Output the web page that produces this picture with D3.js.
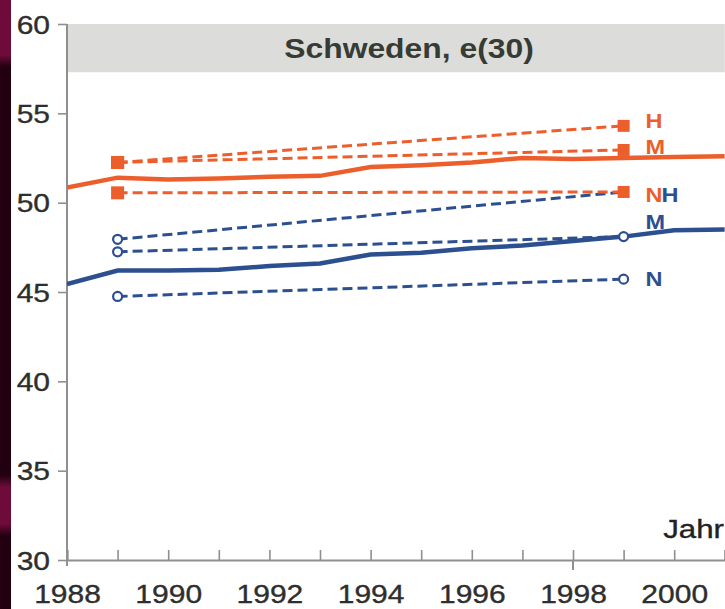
<!DOCTYPE html>
<html>
<head>
<meta charset="utf-8">
<script src="https://cdn.jsdelivr.net/npm/d3@7"></script>
<style>
  html, body { margin: 0; padding: 0; background: #ffffff; }
  svg { display: block; font-family: "Liberation Sans", Arial, sans-serif; }
</style>
</head>
<body>
<svg id="chart" width="725" height="609"></svg>
<script>
// Observed remaining life expectancy at age 30, Sweden
const years = [1988, 1989, 1990, 1991, 1992, 1993, 1994, 1995, 1996, 1997, 1998, 1999, 2000, 2001];
const womenObserved = [50.85, 51.4, 51.3, 51.35, 51.45, 51.5, 52.0, 52.1, 52.25, 52.5, 52.45, 52.5, 52.55, 52.6];
const menObserved   = [45.45, 46.2, 46.2, 46.25, 46.45, 46.6, 47.1, 47.2, 47.45, 47.6, 47.85, 48.1, 48.45, 48.5];

// Projection variants: start (1989) and target (1999)
const projectionYears = [1989, 1999];
const womenHigh   = [52.25, 54.3];
const womenMedium = [52.25, 52.95];
const womenLow    = [50.55, 50.6];
const menHigh     = [47.95, 50.6];
const menMedium   = [47.25, 48.1];
const menLow      = [44.75, 45.72];

const yTicks = [30, 35, 40, 45, 50, 55, 60];
const xTicks = [1988, 1990, 1992, 1994, 1996, 1998, 2000];
const title = "Schweden, e(30)";
const xTitle = "Jahr";

const ORANGE = "#ec5e2b";
const BLUE = "#2c4f8f";
const STRETCH = 1.2;
const INK = "#2e2e2e";

const svg = d3.select("#chart");

// dark slide edge on the left
const grad = svg.append("defs").append("linearGradient")
  .attr("id", "edge").attr("x1", 0).attr("y1", 0).attr("x2", 0).attr("y2", 1);
[[0, "#6e0b3a"], [0.09, "#6e0b3a"], [0.11, "#22000f"], [0.78, "#22000f"], [0.8, "#6e0b3a"], [0.86, "#6e0b3a"], [0.88, "#22000f"], [1, "#22000f"]]
  .forEach(([o, c]) => grad.append("stop").attr("offset", o).attr("stop-color", c));
svg.append("rect").attr("x", 0).attr("y", 0).attr("width", 11).attr("height", 609).attr("fill", "url(#edge)");

const x = d3.scaleLinear().domain([1988, 2001]).range([67, 724.8]);
const y = d3.scaleLinear().domain([30, 60]).range([560, 24]);

// title band
svg.append("rect")
  .attr("x", x(1988)).attr("y", y(60))
  .attr("width", x(2001) - x(1988)).attr("height", y(57.3) - y(60))
  .attr("fill", "#dcdddb");
svg.append("text")
  .attr("transform", `translate(409,58) scale(1.18,1)`)
  .attr("text-anchor", "middle")
  .attr("font-size", 27).attr("font-weight", "bold").attr("fill", "#363b33")
  .text(title);

// axes
const yAxis = svg.append("g").attr("transform", `translate(${x(1988)},0)`)
  .call(d3.axisLeft(y).tickValues(yTicks).tickSize(9).tickPadding(0).tickFormat(d3.format("d")));
yAxis.selectAll("text")
  .attr("x", -17 / STRETCH).attr("dy", "0.36em")
  .attr("transform", `scale(${STRETCH},1)`)
  .attr("font-size", 25).attr("fill", INK)
  .attr("stroke", INK).attr("stroke-width", 0.35);

const xAxis = svg.append("g").attr("transform", `translate(0,${y(30)})`)
  .call(d3.axisBottom(x).ticks(13).tickSize(-10).tickFormat(d => xTicks.includes(d) ? d : ""));
xAxis.selectAll("text")
  .attr("y", 43).attr("dy", 0)
  .attr("transform", `scale(${STRETCH},1)`)
  .attr("font-size", 25).attr("fill", INK)
  .attr("stroke", INK).attr("stroke-width", 0.35);
// tick at 1998 also crosses below the axis
xAxis.append("line").attr("x1", x(1998)).attr("x2", x(1998)).attr("y1", 0).attr("y2", 10);

svg.selectAll(".domain, .tick line, g > line").attr("stroke", "#8f8f8f").attr("stroke-width", 2);
svg.selectAll(".tick line").attr("stroke-width", 1.6);
yAxis.select(".domain").attr("d", `M0,${y(60)}V${y(30) + 6}`);

svg.append("text")
  .attr("transform", `translate(724,538) scale(1.25,1)`)
  .attr("text-anchor", "end").attr("font-size", 25).attr("fill", "#222")
  .attr("stroke", "#222").attr("stroke-width", 0.35)
  .text(xTitle);

// plot clip
svg.append("clipPath").attr("id", "plot").append("rect")
  .attr("x", x(1988)).attr("y", y(60)).attr("width", x(2001) - x(1988)).attr("height", y(30) - y(60));

const plot = svg.append("g").attr("clip-path", "url(#plot)");
const line = d3.line().x(d => x(d[0])).y(d => y(d[1]));

// observed series
plot.append("path").datum(d3.zip(years, womenObserved))
  .attr("d", line).attr("fill", "none").attr("stroke", ORANGE).attr("stroke-width", 4.5);
plot.append("path").datum(d3.zip(years, menObserved))
  .attr("d", line).attr("fill", "none").attr("stroke", BLUE).attr("stroke-width", 4.5);

// projection variants
const projections = [
  { values: menHigh, color: BLUE },
  { values: menMedium, color: BLUE },
  { values: menLow, color: BLUE },
  { values: womenHigh, color: ORANGE },
  { values: womenMedium, color: ORANGE },
  { values: womenLow, color: ORANGE }
];
projections.forEach(p => {
  plot.append("path").datum(d3.zip(projectionYears, p.values))
    .attr("d", line).attr("fill", "none").attr("stroke", p.color)
    .attr("stroke-width", 3).attr("stroke-dasharray", "10,5");
});

// markers: open circles for men, squares for women
projections.filter(p => p.color === BLUE).forEach(p => {
  plot.selectAll(null).data(d3.zip(projectionYears, p.values)).join("circle")
    .attr("cx", d => x(d[0])).attr("cy", d => y(d[1])).attr("r", 4.5)
    .attr("fill", "#fff").attr("stroke", BLUE).attr("stroke-width", 2.2);
});
projections.filter(p => p.color === ORANGE).forEach(p => {
  plot.selectAll(null).data(d3.zip(projectionYears, p.values)).join("rect")
    .attr("x", (d, i) => x(d[0]) - (i === 0 ? 6.5 : 6))
    .attr("y", (d, i) => y(d[1]) - (i === 0 ? 6.5 : 6))
    .attr("width", (d, i) => i === 0 ? 13 : 12)
    .attr("height", (d, i) => i === 0 ? 13 : 12)
    .attr("fill", ORANGE);
});

// variant labels next to the 1999 targets
const lx = x(1999) + 22;
const label = (txt, color, xx, yy) => svg.append("text")
  .attr("transform", `translate(${xx},${yy}) scale(1.12,1)`)
  .attr("font-size", 21).attr("font-weight", "bold").attr("fill", color).text(txt);
label("H", ORANGE, lx, y(womenHigh[1]) + 2);
label("M", ORANGE, lx, y(womenMedium[1]) + 4);
label("N", ORANGE, lx, y(womenLow[1]) + 10);
label("H", BLUE, lx + 16, y(menHigh[1]) + 10);
label("M", BLUE, lx, y(menMedium[1]) - 8);
label("N", BLUE, lx, y(menLow[1]) + 7);
</script>
</body>
</html>
